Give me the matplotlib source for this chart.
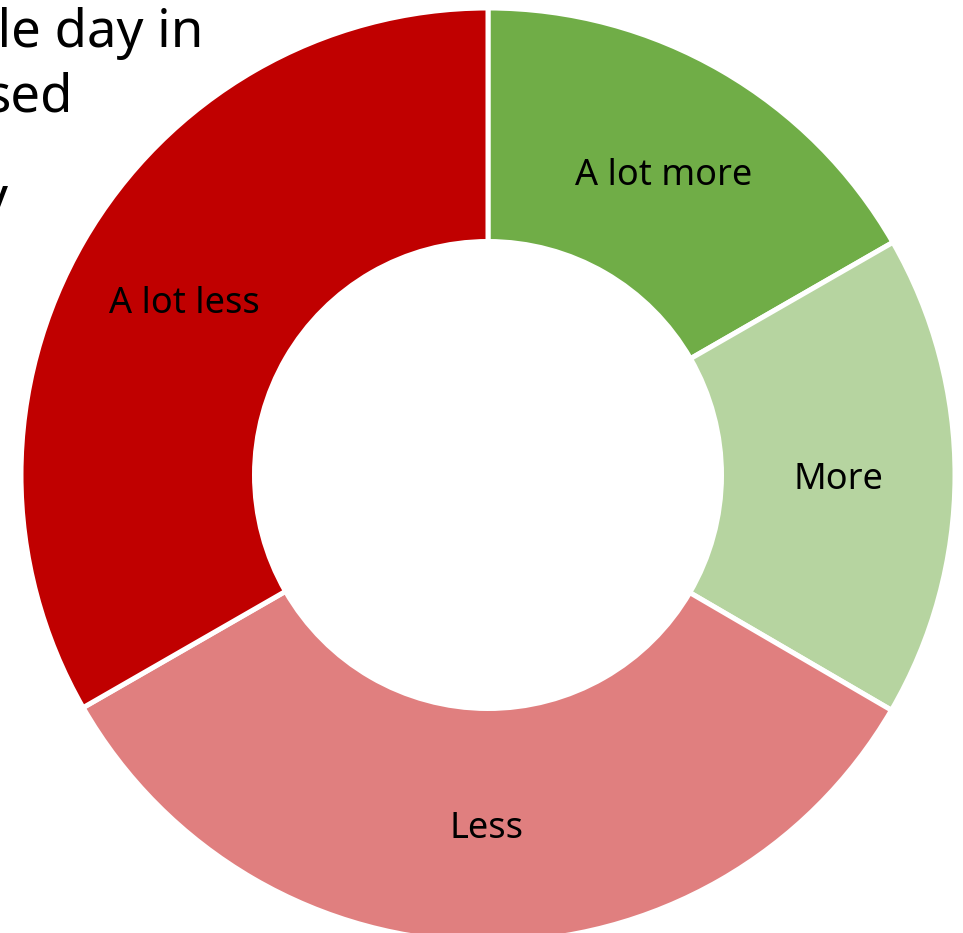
import matplotlib
matplotlib.use("Agg")
import matplotlib.pyplot as plt
from matplotlib.transforms import offset_copy

# share of answers, clockwise from 12 o'clock
categories = ["A lot more", "More", "Less", "A lot less"]
shares = [16.7, 16.7, 33.3, 33.3]
colors = ["#70AD47", "#B6D4A0", "#E07F7F", "#C00000"]

# title is mostly hidden behind the ring, only these ends show
title_bits = ["ple day in", "sed", "y"]

plt.rcParams["font.family"] = ["Noto Sans", "DejaVu Sans"]

W, H = 963, 933
fig = plt.figure(figsize=(W / 100, H / 100), dpi=100)
ax = fig.add_axes([0, 0, 1, 1])
ax.patch.set_alpha(0)

wedges, texts = ax.pie(
    shares,
    labels=categories,
    colors=colors,
    startangle=90,
    counterclock=False,
    radius=1.0,
    labeldistance=0.75,
    wedgeprops=dict(width=0.5, edgecolor="white", linewidth=3.6),
    textprops=dict(fontsize=26, color="black"),
)
# centre labels on the ring, nudged down a touch
shift = offset_copy(ax.transData, fig=fig, x=0, y=-4, units="dots")
for t in texts:
    t.set_ha("center")
    t.set_va("center")
    t.set_transform(shift)

# place the ring: centre at (488, 475) px, ~467 px per unit
cx, cy, s = 488, 475, 467
ax.set_xlim(-cx / s, (W - cx) / s)
ax.set_ylim(-(H - cy) / s, cy / s)
ax.set_aspect("auto")
ax.axis("off")

# title fragments (right edge x, baseline y in px)
pos = [(203, 47), (73, 112), (8, 214)]
for txt, (x, y) in zip(title_bits, pos):
    fig.text(x / W, 1 - y / H, txt, ha="right", va="baseline",
             fontsize=38, color="black", zorder=-1)

fig.savefig("out.png", dpi=100)
